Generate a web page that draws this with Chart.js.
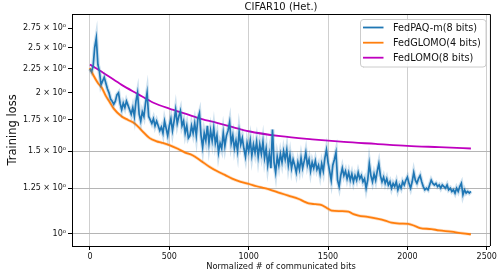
<!DOCTYPE html>
<html>
<head>
<meta charset="utf-8">
<script src="https://cdn.jsdelivr.net/npm/chart.js@4"></script>
<style>
html,body{margin:0;padding:0;background:#fff;}
#wrap{width:499px;height:280px;position:relative;}
</style>
</head>
<body>
<div id="wrap"><canvas id="c" width="499" height="280"></canvas></div>
<script>
// ---------- DATA ----------
const chartTitle = 'CIFAR10 (Het.)';
const xTitle = 'Normalized # of communicated bits';
const yTitle = 'Training loss';
const seriesNames = ['FedPAQ-m(8 bits)', 'FedGLOMO(4 bits)', 'FedLOMO(8 bits)'];

const xTicks = [0, 500, 1000, 1500, 2000, 2500];
const yTicks = [1, 1.25, 1.5, 1.75, 2, 2.25, 2.5, 2.75];
const yTickLabels = ['10⁰', '1.25 × 10⁰', '1.5 × 10⁰', '1.75 × 10⁰', '2 × 10⁰', '2.25 × 10⁰', '2.5 × 10⁰', '2.75 × 10⁰'];
const yGridAt = [1, 1.25, 1.5];

// FedPAQ-m: sampled every 10 units from 0 to 2400
const pacStep = 10;
const fedpaqLoss = [
 2.25,2.22,2.28,2.50,2.62,2.30,2.22,2.08,2.12,2.16,
 2.10,2.04,2.00,1.94,1.92,1.89,1.92,1.98,2.00,1.90,
 1.84,1.90,1.86,1.92,1.88,1.84,1.80,1.86,1.78,1.92,
 2.00,1.80,1.74,1.82,1.78,1.90,2.00,1.78,1.75,1.72,
 1.76,1.70,1.74,1.70,1.66,1.69,1.64,1.74,1.68,1.62,
 1.70,1.76,1.66,1.74,1.84,1.72,1.78,1.83,1.70,1.74,
 1.64,1.70,1.60,1.62,1.70,1.64,1.72,1.62,1.76,1.81,
 1.62,1.53,1.64,1.58,1.70,1.56,1.66,1.58,1.68,1.56,
 1.62,1.49,1.56,1.52,1.64,1.54,1.62,1.66,1.73,1.56,
 1.62,1.52,1.58,1.50,1.65,1.55,1.60,1.52,1.46,1.56,
 1.50,1.58,1.47,1.55,1.49,1.57,1.46,1.55,1.48,1.57,
 1.45,1.52,1.40,1.48,1.38,1.67,1.42,1.35,1.46,1.40,
 1.48,1.42,1.50,1.44,1.51,1.40,1.47,1.38,1.44,1.40,
 1.35,1.42,1.37,1.45,1.38,1.43,1.49,1.40,1.44,1.36,
 1.42,1.38,1.43,1.37,1.40,1.34,1.41,1.36,1.45,1.51,
 1.42,1.36,1.30,1.40,1.44,1.49,1.30,1.26,1.33,1.38,
 1.33,1.36,1.31,1.35,1.30,1.34,1.29,1.33,1.30,1.35,
 1.31,1.33,1.29,1.31,1.25,1.30,1.41,1.33,1.29,1.34,
 1.30,1.36,1.41,1.33,1.29,1.32,1.28,1.31,1.27,1.29,
 1.25,1.28,1.26,1.29,1.24,1.27,1.25,1.29,1.27,1.30,
 1.32,1.28,1.25,1.29,1.35,1.30,1.28,1.31,1.33,1.29,
 1.26,1.24,1.25,1.24,1.27,1.30,1.28,1.27,1.28,1.26,
 1.27,1.25,1.27,1.26,1.25,1.27,1.24,1.25,1.23,1.24,
 1.22,1.25,1.23,1.26,1.28,1.21,1.24,1.22,1.23,1.22,
 1.23
];

const glomoBits = [0,25,50,75,100,125,150,200,240,282,324,376,420,450,500,550,600,646,700,752,800,850,896,950,1003,1050,1100,1128,1200,1250,1316,1350,1378,1420,1460,1490,1523,1580,1629,1660,1692,1750,1817,1860,1899,1950,2005,2040,2080,2150,2200,2275,2350,2400];
const glomoLoss = [2.26,2.17,2.10,2.05,1.97,1.91,1.85,1.78,1.75,1.72,1.665,1.60,1.575,1.565,1.546,1.52,1.49,1.47,1.43,1.39,1.36,1.335,1.31,1.29,1.276,1.262,1.25,1.243,1.22,1.205,1.185,1.17,1.16,1.155,1.15,1.135,1.119,1.116,1.113,1.10,1.092,1.085,1.074,1.065,1.055,1.05,1.048,1.04,1.027,1.022,1.015,1.009,1.0,0.996];

const lomoBits = [0,100,200,300,400,500,600,700,800,900,1000,1200,1400,1600,1800,2000,2200,2400];
const lomoLoss = [2.30,2.19,2.08,1.99,1.905,1.85,1.805,1.76,1.725,1.69,1.655,1.615,1.59,1.57,1.555,1.54,1.53,1.52];

// ---------- BUILD ----------
const paqPts = fedpaqLoss.map((v, i) => ({x: i * pacStep, y: v}));
const glomoPts = glomoBits.map((b, i) => ({x: b, y: glomoLoss[i]}));
const lomoPts = lomoBits.map((b, i) => ({x: b, y: lomoLoss[i]}));

const FONT = '"DejaVu Sans", sans-serif';
const colors = ['#1f77b4', '#ff7f0e', '#bf00bf'];

const decor = {
  id: 'decor',
  afterDraw(chart) {
    const ctx = chart.ctx, a = chart.chartArea;
    ctx.save();
    // top & right spines
    ctx.strokeStyle = '#000';
    ctx.lineWidth = 1;
    ctx.beginPath();
    ctx.moveTo(a.left, a.top + 0.5);
    ctx.lineTo(a.right + 0.5, a.top + 0.5);
    ctx.lineTo(a.right + 0.5, a.bottom);
    ctx.stroke();
    // titles
    ctx.fillStyle = '#111';
    ctx.textAlign = 'center';
    ctx.textBaseline = 'middle';
    ctx.font = '10px ' + FONT;
    ctx.fillText(chartTitle, (a.left + a.right) / 2, 7);
    ctx.font = '8.3px ' + FONT;
    ctx.fillText(xTitle, (a.left + a.right) / 2, 267);
    ctx.save();
    ctx.translate(13, (a.top + a.bottom) / 2);
    ctx.rotate(-Math.PI / 2);
    ctx.font = '11.5px ' + FONT;
    ctx.fillText(yTitle, 0, 0);
    ctx.restore();
    // legend
    const lx = 360, ly = 19, lw = 126, lh = 48, r = 3;
    ctx.fillStyle = 'rgba(255,255,255,0.85)';
    ctx.strokeStyle = '#cccccc';
    ctx.lineWidth = 1;
    ctx.beginPath();
    ctx.moveTo(lx + r, ly + 0.5);
    ctx.lineTo(lx + lw - r, ly + 0.5);
    ctx.arcTo(lx + lw, ly + 0.5, lx + lw, ly + r, r);
    ctx.lineTo(lx + lw, ly + lh - r);
    ctx.arcTo(lx + lw, ly + lh, lx + lw - r, ly + lh, r);
    ctx.lineTo(lx + r, ly + lh);
    ctx.arcTo(lx + 0.5, ly + lh, lx + 0.5, ly + lh - r, r);
    ctx.lineTo(lx + 0.5, ly + r);
    ctx.arcTo(lx + 0.5, ly + 0.5, lx + r, ly + 0.5, r);
    ctx.closePath();
    ctx.fill();
    ctx.stroke();
    ctx.font = '9.7px ' + FONT;
    ctx.textAlign = 'left';
    const rows = [27.5, 42.7, 57.7];
    seriesNames.forEach((name, i) => {
      ctx.strokeStyle = colors[i];
      ctx.lineWidth = 1.8;
      ctx.beginPath();
      ctx.moveTo(363, rows[i]);
      ctx.lineTo(383.5, rows[i]);
      ctx.stroke();
      ctx.fillStyle = '#111';
      ctx.fillText(name, 393, rows[i] + 0.5);
    });
    ctx.restore();
  }
};

new Chart(document.getElementById('c'), {
  type: 'line',
  data: {
    datasets: [
      {label: 'band0', data: paqPts, borderColor: 'rgba(31,119,180,0.22)', borderWidth: 4, pointRadius: 0, tension: 0, fill: false},
      {label: 'band1', data: glomoPts, borderColor: 'rgba(255,127,14,0.25)', borderWidth: 3.2, pointRadius: 0, cubicInterpolationMode: 'monotone', fill: false},
      {label: seriesNames[0], data: paqPts, borderColor: colors[0], borderWidth: 1.7, pointRadius: 0, tension: 0, fill: false},
      {label: seriesNames[1], data: glomoPts, borderColor: colors[1], borderWidth: 1.8, pointRadius: 0, cubicInterpolationMode: 'monotone', fill: false},
      {label: seriesNames[2], data: lomoPts, borderColor: colors[2], borderWidth: 1.8, pointRadius: 0, cubicInterpolationMode: 'monotone', fill: false}
    ]
  },
  options: {
    responsive: false,
    animation: false,
    devicePixelRatio: 1,
    layout: {padding: {top: 14, right: 7, left: 0, bottom: 0}},
    plugins: {legend: {display: false}, title: {display: false}, tooltip: {enabled: false}},
    scales: {
      x: {
        type: 'linear', min: -113, max: 2520,
        afterBuildTicks: s => { s.ticks = xTicks.map(v => ({value: v})); },
        afterFit: s => { s.height = 34; },
        ticks: {font: {family: FONT, size: 8}, color: '#111', padding: 2, maxRotation: 0, autoSkip: false,
          callback: v => String(v)},
        grid: {color: '#cfcfcf', lineWidth: 1, tickLength: 4, tickColor: '#000', tickWidth: 1},
        border: {display: true, color: '#000', width: 1}
      },
      y: {
        type: 'logarithmic', min: 0.94, max: 2.95,
        afterBuildTicks: s => { s.ticks = yTicks.map(v => ({value: v})); },
        afterFit: s => { s.width = 72; },
        ticks: {font: {family: FONT, size: 8}, color: '#111', padding: 2, autoSkip: false,
          callback: (v, i) => yTickLabels[i]},
        grid: {color: c => (c.tick && yGridAt.includes(c.tick.value)) ? '#b5b5b5' : 'rgba(0,0,0,0)',
          lineWidth: 1, tickLength: 4, tickColor: '#000', tickWidth: 1},
        border: {display: true, color: '#000', width: 1}
      }
    }
  },
  plugins: [decor]
});
</script>
</body>
</html>
